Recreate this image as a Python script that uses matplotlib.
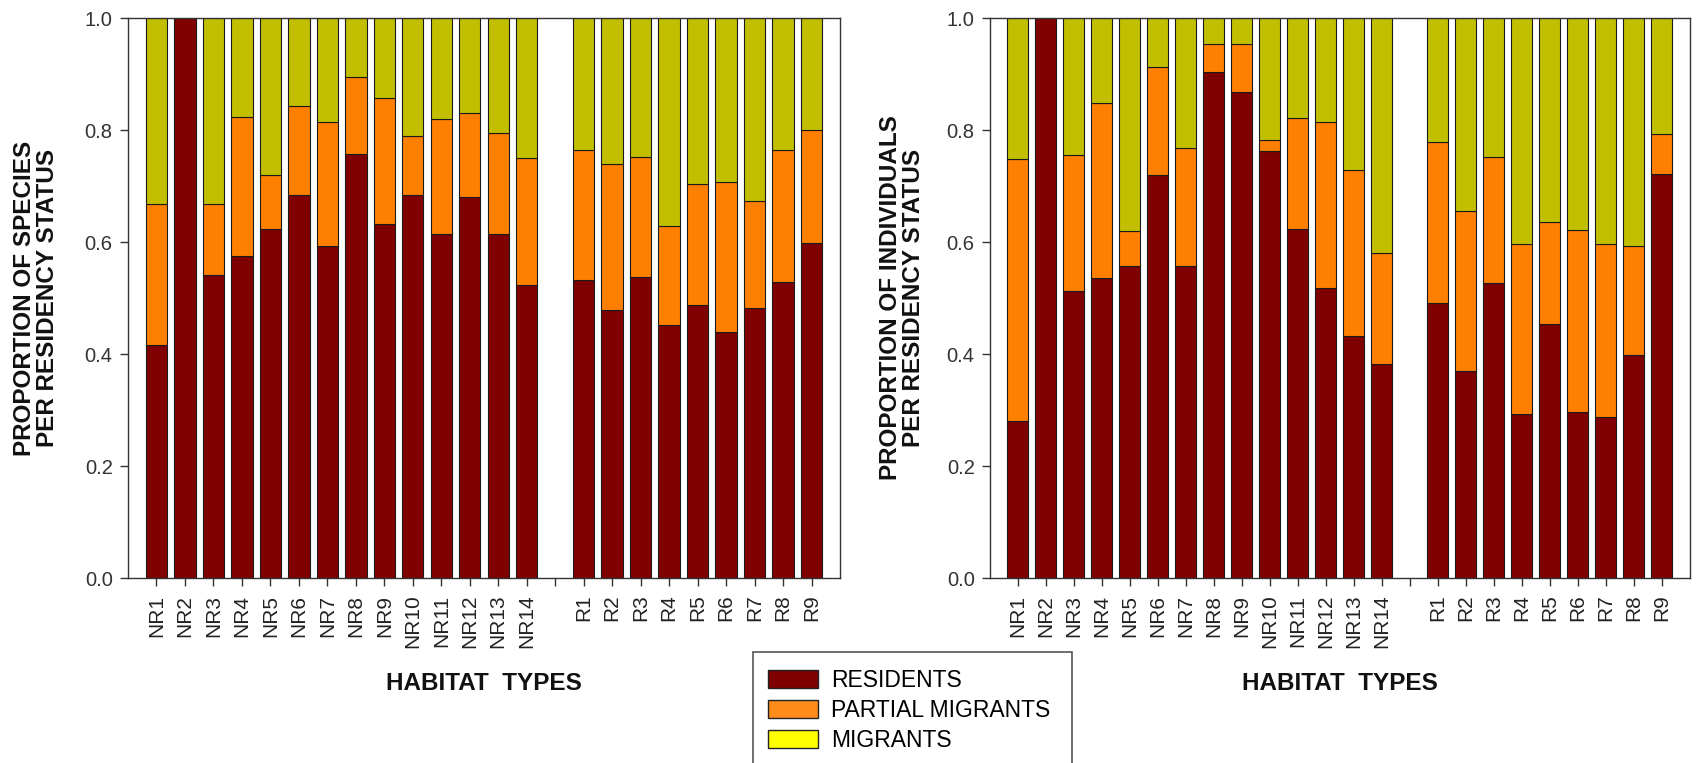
import numpy as np
import matplotlib
matplotlib.use("Agg")
import matplotlib.pyplot as plt
from matplotlib.patches import Patch, Rectangle

plt.rcParams['font.family'] = ['Liberation Sans', 'DejaVu Sans']

# ---------------- data ----------------
habitats = ['NR1', 'NR2', 'NR3', 'NR4', 'NR5', 'NR6', 'NR7', 'NR8', 'NR9', 'NR10',
            'NR11', 'NR12', 'NR13', 'NR14', '',
            'R1', 'R2', 'R3', 'R4', 'R5', 'R6', 'R7', 'R8', 'R9']

# Species proportions (left panel); None marks the empty spacer slot
sp_residents = [0.416, 1.000, 0.541, 0.575, 0.624, 0.684, 0.593, 0.758, 0.633, 0.684,
                0.614, 0.681, 0.615, 0.523, None,
                0.532, 0.479, 0.538, 0.452, 0.487, 0.440, 0.482, 0.529, 0.599]
sp_partial = [0.251, 0.000, 0.127, 0.249, 0.096, 0.158, 0.222, 0.137, 0.225, 0.106,
              0.206, 0.149, 0.180, 0.227, None,
              0.233, 0.261, 0.213, 0.177, 0.217, 0.267, 0.192, 0.236, 0.201]
sp_migrants = [0.333, 0.000, 0.332, 0.176, 0.280, 0.158, 0.185, 0.105, 0.142, 0.210,
               0.180, 0.170, 0.205, 0.250, None,
               0.235, 0.260, 0.249, 0.371, 0.296, 0.293, 0.326, 0.235, 0.200]

# Individuals proportions (right panel)
in_residents = [0.280, 1.000, 0.512, 0.536, 0.558, 0.720, 0.558, 0.904, 0.867, 0.762,
                0.623, 0.517, 0.432, 0.382, None,
                0.491, 0.369, 0.526, 0.292, 0.454, 0.296, 0.288, 0.398, 0.722]
in_partial = [0.468, 0.000, 0.244, 0.312, 0.062, 0.193, 0.209, 0.049, 0.087, 0.020,
              0.199, 0.297, 0.297, 0.198, None,
              0.287, 0.287, 0.226, 0.305, 0.181, 0.326, 0.309, 0.195, 0.070]
in_migrants = [0.252, 0.000, 0.244, 0.152, 0.380, 0.087, 0.233, 0.047, 0.046, 0.218,
               0.178, 0.186, 0.271, 0.420, None,
               0.222, 0.344, 0.248, 0.403, 0.365, 0.378, 0.403, 0.407, 0.208]

status_labels = ['RESIDENTS', 'PARTIAL MIGRANTS', 'MIGRANTS']
bar_colors = ['#800000', '#FF8000', '#C2BF00']
legend_colors = ['#800000', '#FF8C1A', '#FFFF00']

ylabels = ['PROPORTION OF SPECIES\nPER RESIDENCY STATUS',
           'PROPORTION OF INDIVIDUALS\nPER RESIDENCY STATUS']
xlabel = 'HABITAT  TYPES'

# ---------------- figure ----------------
W, H = 1706, 763
fig = plt.figure(figsize=(W / 100, H / 100), dpi=100)
fig.patch.set_facecolor('white')

def fx(px):
    return px / W

def fy(py):
    return 1 - py / H

ax_top, ax_bot = 18, 578
panels = [
    (128, 840, sp_residents, sp_partial, sp_migrants, ylabels[0], 36),
    (990, 1690, in_residents, in_partial, in_migrants, ylabels[1], 902),
]

x_all = np.arange(1, len(habitats) + 1)

for (l, r, res, par, mig, ylab, ylab_x) in panels:
    ax = fig.add_axes([fx(l), fy(ax_bot), fx(r - l), (ax_bot - ax_top) / H])
    idx = [i for i, v in enumerate(res) if v is not None]
    xs = x_all[idx]
    rv = np.array([res[i] for i in idx])
    pv = np.array([par[i] for i in idx])
    mv = np.array([mig[i] for i in idx])
    kw = dict(width=0.75, edgecolor='#1a1a1a', linewidth=0.8)
    ax.bar(xs, rv, color=bar_colors[0], **kw)
    ax.bar(xs, pv, bottom=rv, color=bar_colors[1], **kw)
    ax.bar(xs, mv, bottom=rv + pv, color=bar_colors[2], **kw)

    ax.set_xlim(0, 25)
    ax.set_ylim(0, 1.0)
    ax.set_xticks(x_all)
    ax.set_xticklabels(habitats, rotation=90, fontsize=15, color='#222222')
    ax.set_yticks(np.arange(0, 1.01, 0.2))
    ax.set_yticklabels(['%.1f' % v for v in np.arange(0, 1.01, 0.2)],
                       fontsize=14.5, color='#333333')
    ax.tick_params(axis='both', direction='out', length=6, width=1, color='#333333')
    ax.tick_params(axis='x', pad=6)
    ax.tick_params(axis='y', pad=5)
    for sp in ax.spines.values():
        sp.set_color('#333333')
        sp.set_linewidth(1.0)

    fig.text(fx(ylab_x), fy((ax_top + ax_bot) / 2), ylab, rotation=90,
             ha='center', va='center', fontsize=17.5, fontweight='bold',
             linespacing=1.05, color='#111111')
    fig.text(fx((l + r) / 2), fy(683), xlabel, ha='center', va='center',
             fontsize=17.5, fontweight='bold', color='#111111')

# ---------------- legend ----------------
fig.patches.append(Rectangle((fx(753), fy(775)), fx(1072 - 753), (775 - 652) / H,
                             transform=fig.transFigure, facecolor='white',
                             edgecolor='#555555', linewidth=1.2, zorder=0))
handles = [Patch(facecolor=c, edgecolor='#222222', linewidth=1.0) for c in legend_colors]
fig.legend(handles, status_labels, loc='upper left',
           bbox_to_anchor=(fx(768), fy(669)), frameon=False, borderpad=0,
           borderaxespad=0, fontsize=16.5, handlelength=2.2, handleheight=0.8,
           handletextpad=0.55, labelspacing=0.3)

fig.savefig('out.png', dpi=100, facecolor='white')
